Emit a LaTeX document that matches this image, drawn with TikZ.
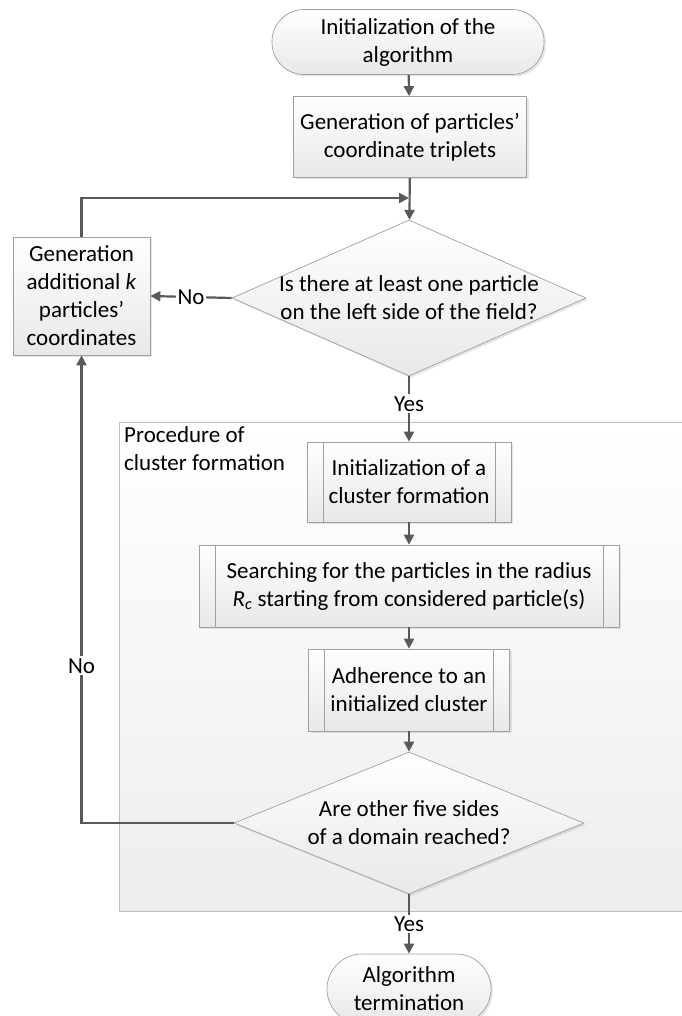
\documentclass[tikz,border=0pt]{standalone}
\usepackage{fontspec}
\setmainfont{Carlito}
\usetikzlibrary{arrows.meta, shapes.geometric, shadows}
\definecolor{flowgray}{RGB}{89,89,89}
\definecolor{edgegray}{RGB}{160,160,160}
\definecolor{panelgray}{RGB}{190,190,190}

\begin{document}
\begin{tikzpicture}[x=1pt, y=-1pt, >={Triangle[length=10pt, width=10pt]},
  every node/.style={font=\fontsize{23}{28}\selectfont, align=center, inner sep=0pt},
  shapebase/.style={draw=edgegray, line width=0.7pt, top color=white, bottom color=black!9,
    drop shadow={opacity=0.2, shadow xshift=2pt, shadow yshift=-2pt}},
  terminal/.style={shapebase, rectangle, rounded corners=#1},
  process/.style={shapebase, rectangle},
  subproc/.style={shapebase, rectangle,
    path picture={\draw[edgegray, line width=0.7pt]
      ([xshift=16pt]path picture bounding box.north west) -- ([xshift=16pt]path picture bounding box.south west)
      ([xshift=-16pt]path picture bounding box.north east) -- ([xshift=-16pt]path picture bounding box.south east);}},
  decision/.style={shapebase, diamond, drop shadow={opacity=0}},
  flow/.style={draw=flowgray, line width=2.2pt},
  answer/.style={fill=white, inner sep=2pt}]
  \useasboundingbox (0,0) rectangle (681,1016);

  % Procedure of cluster formation (panel)
  \draw[draw=panelgray, line width=1pt, top color=white, bottom color=black!7] (119,422) rectangle (700,911);
  \node[anchor=north west, align=left] (panel) at (124,426) {Procedure of\\cluster formation};

  % Main column
  \node[terminal=32pt, minimum width=272pt, minimum height=65pt] (start) at (408,42)
    {Initialization of the\\algorithm};
  \node[process, minimum width=233pt, minimum height=81pt] (triplets) at (410,137)
    {Generation of particles’\\coordinate triplets};
  \node[decision, minimum width=354pt, minimum height=156pt,
    label={center:Is there at least one particle\\on the left side of the field?}] (leftside) at (409,298) {};
  \node[process, minimum width=137pt, minimum height=118pt] (additional) at (81.5,296)
    {Generation\\additional \textit{k}\\particles’\\coordinates};

  % Inside the panel
  \node[subproc, minimum width=204pt, minimum height=80pt] (initcl) at (409,482)
    {Initialization of a\\cluster formation};
  \node[subproc, minimum width=420pt, minimum height=82pt] (search) at (409,586)
    {Searching for the particles in the radius\\\textit{R}\textsubscript{\textit{c}} starting from considered particle(s)};
  \node[subproc, minimum width=201pt, minimum height=82pt] (adhere) at (409,690)
    {Adherence to an\\initialized cluster};
  \node[decision, minimum width=350pt, minimum height=142pt,
    label={center:Are other five sides\\of a domain reached?}] (sides) at (409,823) {};

  \node[terminal=35pt, minimum width=164pt, minimum height=70pt] (finish) at (409,989)
    {Algorithm\\termination};

  % Connectors
  \coordinate (merge) at (409,198);
  \draw[flow, ->] (start) -- (triplets);
  \draw[flow, ->] (triplets) -- (leftside);
  \draw[flow, ->] (additional.north) |- (merge);
  \draw[flow, ->] (leftside.west) -- (additional.east) node[answer, midway] {No};
  \draw[flow, ->] (leftside.south) -- (initcl.north) node[answer, pos=0.42] {Yes};
  \draw[flow, ->] (initcl) -- (search);
  \draw[flow, ->] (search) -- (adhere);
  \draw[flow, ->] (adhere) -- (sides);
  \draw[flow, ->] (sides.west) -| (additional.south) node[answer, pos=0.668] {No};
  \draw[flow, ->] (sides.south) -- (finish.north) node[answer, pos=0.5] {Yes};
\end{tikzpicture}
\end{document}
